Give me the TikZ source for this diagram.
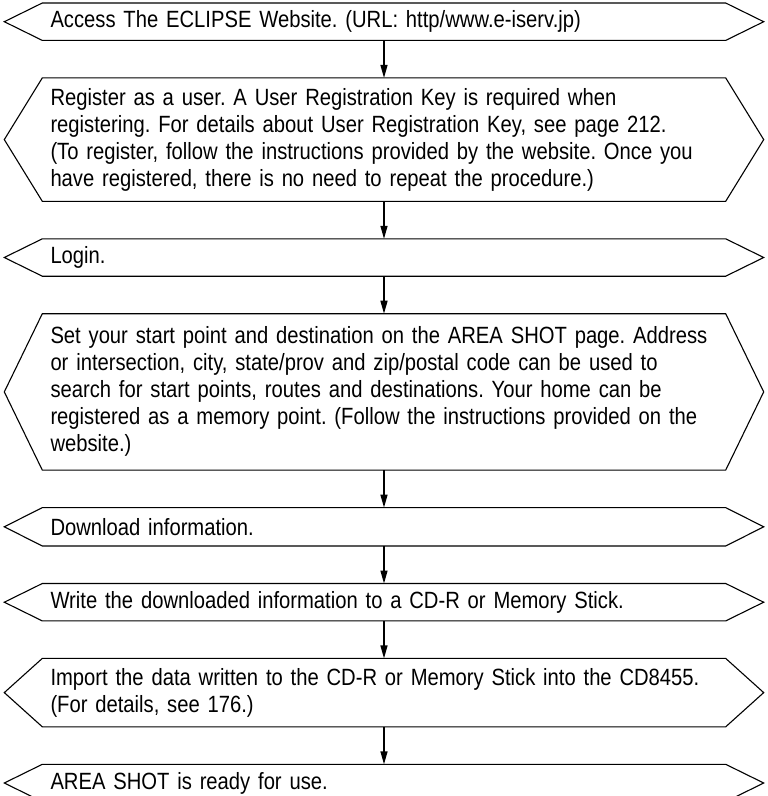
\documentclass[tikz,border=0pt]{standalone}
\usepackage{fontspec}
\setmainfont[FakeStretch=0.86]{Liberation Sans}
\usetikzlibrary{arrows.meta, positioning}
\frenchspacing

\begin{document}
\begin{tikzpicture}[
        x=1pt, y=1pt,
        node distance=37.5pt,
        stepbox/.style={rectangle, text width=667pt, inner xsep=8pt, inner ysep=0pt, align=left, minimum height=37pt, font=\fontsize{23.5}{27}\selectfont},
        flow/.style={-{Triangle[length=13pt, width=7pt]}, line width=1.4pt},
        hexline/.style={line width=1.1pt}
    ]
    \useasboundingbox (0,0) rectangle (768,-796);

    % Steps
    \node[stepbox, anchor=north] (access) at (384,-3) {Access The ECLIPSE Website. (URL: http/www.e-iserv.jp)};
    \node[stepbox, below=of access, minimum height=123pt] (register) {Register as a user. A User Registration Key is required when\\
        registering. For details about User Registration Key, see page 212.\\
        (To register, follow the instructions provided by the website. Once you\\
        have registered, there is no need to repeat the procedure.)};
    \node[stepbox, below=of register] (login) {Login.};
    \node[stepbox, below=of login, minimum height=156pt] (areapage) {Set your start point and destination on the AREA SHOT page. Address\\
        or intersection, city, state/prov and zip/postal code can be used to\\
        search for start points, routes and destinations. Your home can be\\
        registered as a memory point. (Follow the instructions provided on the\\
        website.)};
    \node[stepbox, below=of areapage, minimum height=38pt] (download) {Download information.};
    \node[stepbox, below=of download] (write) {Write the downloaded information to a CD-R or Memory Stick.};
    \node[stepbox, below=of write, minimum height=68pt] (import) {Import the data written to the CD-R or Memory Stick into the CD8455.\\
        (For details, see 176.)};
    \node[stepbox, below=of import] (ready) {AREA SHOT is ready for use.};

    % Hexagon outlines
    \foreach \n in {access, register, login, areapage, download, write, import, ready}
        \draw[hexline] (\n.north west) -- (\n.north east) -- ([xshift=38pt]\n.east) -- (\n.south east) -- (\n.south west) -- ([xshift=-38pt]\n.west) -- cycle;

    % Links
    \draw[flow] (access) -- (register);
    \draw[flow] (register) -- (login);
    \draw[flow] (login) -- (areapage);
    \draw[flow] (areapage) -- (download);
    \draw[flow] (download) -- (write);
    \draw[flow] (write) -- (import);
    \draw[flow] (import) -- (ready);

\end{tikzpicture}
\end{document}
